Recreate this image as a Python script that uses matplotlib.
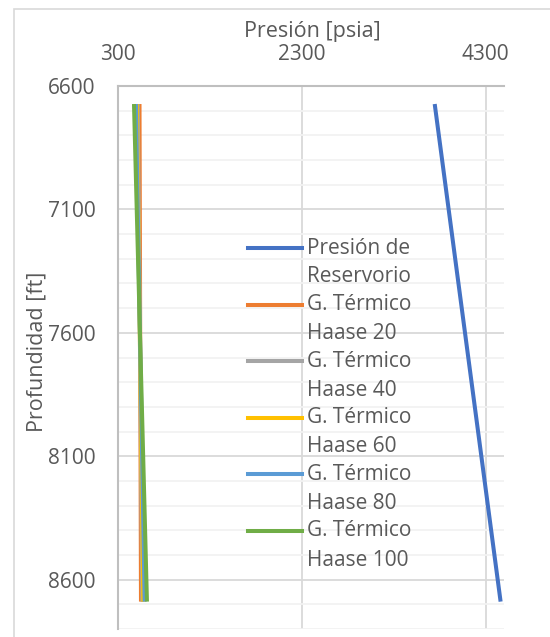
import matplotlib
matplotlib.use("Agg")
import matplotlib.pyplot as plt
from matplotlib.lines import Line2D
from matplotlib.patches import Rectangle
from matplotlib.ticker import MultipleLocator

plt.rcParams['font.family'] = ['Open Sans', 'DejaVu Sans']

# depth of the two end points of each profile [ft]
depth = [6673, 8689]

# pressure at top / bottom [psia]
p_reservorio = [3746, 4463]
p_haase20 = [534, 550]
p_haase40 = [515, 565]
p_haase60 = [505, 575]
p_haase80 = [495, 590]
p_haase100 = [474, 615]

series = [p_reservorio, p_haase20, p_haase40, p_haase60, p_haase80, p_haase100]
labels = ['Presión de\nReservorio', 'G. Térmico\nHaase 20', 'G. Térmico\nHaase 40',
          'G. Térmico\nHaase 60', 'G. Térmico\nHaase 80', 'G. Térmico\nHaase 100']
colors = ['#4472C4', '#ED7D31', '#A5A5A5', '#FFC000', '#5B9BD5', '#70AD47']

x_ticks = [300, 2300, 4300]
y_ticks = [6600, 7100, 7600, 8100, 8600]

W, H = 550, 637
fig = plt.figure(figsize=(W / 100, H / 100), dpi=100)

# outer chart frame (cut by the image edge on right/bottom)
fig.patches.append(Rectangle((14 / W, -0.05), 1.0, 1 - 9 / H + 0.05,
                             transform=fig.transFigure, fill=False,
                             edgecolor='#d9d9d9', linewidth=1.2))

ax = fig.add_axes([118 / W, 1 - 629 / H, (504 - 118) / W, (629 - 86) / H])

for vals, lab, c in zip(series, labels, colors):
    ax.plot(vals, depth, color=c, linewidth=2.9, label=lab, solid_capstyle='butt')

ax.set_xlim(300, 4500)
ax.set_ylim(8800, 6600)
ax.xaxis.tick_top()
ax.xaxis.set_label_position('top')
ax.set_xticks(x_ticks)
ax.set_yticks(y_ticks)
ax.yaxis.set_minor_locator(MultipleLocator(100))
ax.tick_params(axis='both', which='both', length=0, labelsize=15, colors='#595959')
ax.tick_params(axis='x', pad=15)
ax.tick_params(axis='y', pad=16)

ax.grid(True, which='major', axis='x', color='#d9d9d9', linewidth=1.3)
ax.grid(True, which='major', axis='y', color='#d9d9d9', linewidth=1.3)
ax.grid(True, which='minor', axis='y', color='#f2f2f2', linewidth=1.3)
ax.set_axisbelow(True)

for s in ['right', 'bottom']:
    ax.spines[s].set_visible(False)
for s in ['left', 'top']:
    ax.spines[s].set_color('#bfbfbf')
    ax.spines[s].set_linewidth(1.5)

fig.text(312 / W, 1 - 31 / H, 'Presión [psia]', ha='center', va='center',
         fontsize=15.5, color='#595959')
fig.text(37 / W, 1 - 352 / H, 'Profundidad [ft]', ha='center', va='center',
         rotation=90, fontsize=15.5, color='#595959')

# legend, Excel style: marker next to the first line of each wrapped label
for i, (lab, c) in enumerate(zip(labels, colors)):
    yy = 1 - (248 + i * 56.6) / H
    fig.add_artist(Line2D([248 / W, 302 / W], [yy, yy], color=c, linewidth=2.9,
                          transform=fig.transFigure))
    first, second = lab.split('\n')
    fig.text(307 / W, yy, first, ha='left', va='center', fontsize=15, color='#595959')
    fig.text(307 / W, yy - 29 / H, second, ha='left', va='center', fontsize=15,
             color='#595959')

fig.savefig('out.png', dpi=100, facecolor='white')
